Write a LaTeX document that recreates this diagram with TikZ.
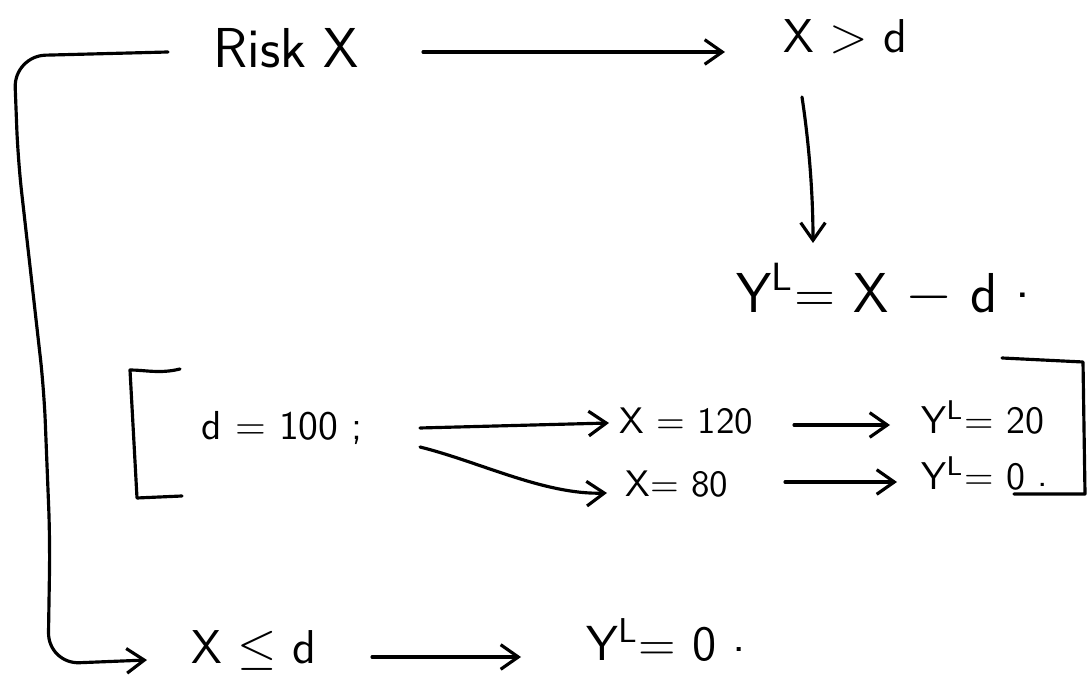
\documentclass[tikz,border=0pt]{standalone}
\usetikzlibrary{arrows.meta}
\begin{document}
\begin{tikzpicture}[x=0.01cm,y=-0.01cm, line width=0.9pt, line cap=round, line join=round,
  lbl/.style={inner sep=0pt, anchor=west, font=\fontsize{#1}{#1}\selectfont\sffamily},
  arr/.style={-{Straight Barb[length=5pt,width=7pt,line width=0.9pt]}}]
\useasboundingbox[fill=white] (0,0) rectangle (1088,677);

% text nodes
\node[lbl=16] (risk) at (212,48) {Risk X};
\node[lbl=13.5] (xgtd) at (782,37) {X $>$ d};
\node[lbl=16] (ylxd) at (735,290) {Y\textsuperscript{L}= X $-$ d \raisebox{0.6ex}{.}};
\node[lbl=11.5] (dh) at (200,428) {d = 100 ;};
\node[lbl=10.5] (x120) at (618,421) {X = 120};
\node[lbl=11] (yl20) at (920,418) {Y\textsuperscript{L}= 20};
\node[lbl=10.5] (x80) at (624,484) {X= 80};
\node[lbl=11] (yl0a) at (920,474) {Y\textsuperscript{L}= 0 \raisebox{0.2ex}{.}};
\node[lbl=13.5] (xled) at (190,650) {X $\leq$ d};
\node[lbl=14] (yl0b) at (585,640) {Y\textsuperscript{L}= 0 \raisebox{0.4ex}{.}};

% connector end points
\coordinate (a1s) at (423,52);  \coordinate (a1e) at (725,52);
\coordinate (v1) at (802,97);   \coordinate (v2) at (813,243);
\coordinate (l0) at (168,52);   \coordinate (l1) at (147,660);
\coordinate (d1s) at (420,428); \coordinate (d1e) at (609,423);
\coordinate (d2s) at (420,447); \coordinate (d2e) at (607,493);
\coordinate (r1s) at (794,425); \coordinate (r1e) at (890,425);
\coordinate (r2s) at (785,482); \coordinate (r2e) at (897,482);
\coordinate (b1s) at (372,657); \coordinate (b1e) at (521,657);

% connectors
\draw[arr] (a1s) -- (a1e);
\draw[arr] (v1) .. controls (810,150) and (813,200) .. (v2);
\draw[arr, rounded corners=9pt] (l0) -- (14,56) -- (18,160) -- (44,390) -- (50,540) -- (48,664) -- (l1);
\draw[arr] (d1s) -- (d1e);
\draw[arr] (d2s) .. controls (480,462) and (545,495) .. (d2e);
\draw[arr] (r1s) -- (r1e);
\draw[arr] (r2s) -- (r2e);
\draw[arr] (b1s) -- (b1e);

% brackets
\draw (180,369) .. controls (160,374) and (145,370) .. (130,370) -- (137,498) -- (182,496);
\draw (1002,358) -- (1083,362) -- (1085,494) -- (1014,494);
\end{tikzpicture}
\end{document}
